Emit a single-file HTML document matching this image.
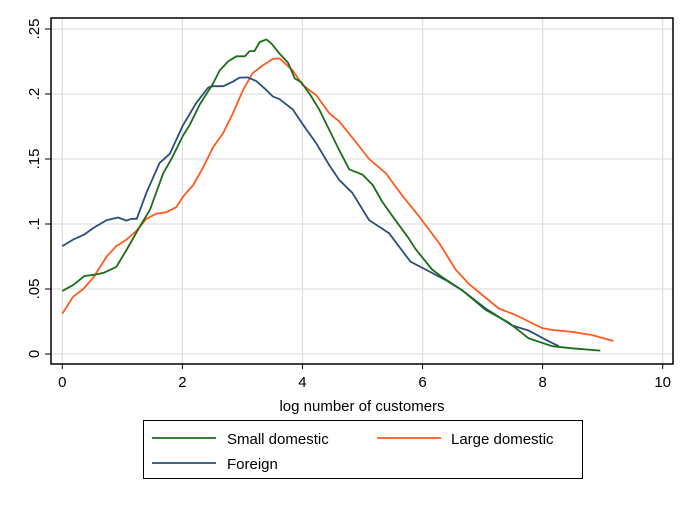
<!DOCTYPE html>
<html><head><meta charset="utf-8"><style>
body{margin:0;background:#fff;}
svg text{font-family:"Liberation Sans",sans-serif;fill:#000;}
</style></head><body>
<svg id="chart" width="692" height="503" viewBox="0 0 692 503">
<rect width="692" height="503" fill="#fff"/>
<g id="grid"></g>
<rect x="51" y="18" width="622" height="346" fill="none" stroke="#000" stroke-width="1.5"/>
<g id="series"></g>
<g id="axes"></g>
<text x="362" y="411" font-size="15" text-anchor="middle">log number of customers</text>
<g>
<rect x="143.5" y="420.5" width="439" height="58" fill="#fff" stroke="#000" stroke-width="1"/>
<line x1="152" y1="438" x2="216" y2="438" stroke="#1a6e1a" stroke-width="1.8"/>
<text x="227" y="444" font-size="15">Small domestic</text>
<line x1="377" y1="438" x2="441" y2="438" stroke="#ff5a1f" stroke-width="1.8"/>
<text x="451" y="444" font-size="15">Large domestic</text>
<line x1="152" y1="463" x2="216" y2="463" stroke="#2a4f7a" stroke-width="1.8"/>
<text x="227" y="469" font-size="15">Foreign</text>
</g>
</svg>
<script>
const xTicks=[0,2,4,6,8,10];
const yTicks=[0,0.05,0.1,0.15,0.2,0.25];
const yTickLabels=["0",".05",".1",".15",".2",".25"];
const smallX=[0,.18,.37,.54,.70,.90,1.07,1.29,1.46,1.68,1.84,2.01,2.12,2.29,2.51,2.62,2.76,2.90,3.04,3.12,3.20,3.29,3.40,3.48,3.62,3.76,3.87,3.98,4.12,4.28,4.45,4.61,4.78,5.0,5.17,5.33,5.50,5.77,5.88,6.16,6.33,6.66,7.05,7.44,7.77,8.16,8.49,8.96];
const smallY=[.0485,.053,.06,.061,.0626,.067,.08,.098,.111,.139,.152,.168,.176,.192,.208,.218,.225,.229,.229,.233,.233,.240,.242,.239,.231,.224,.212,.209,.200,.188,.172,.157,.142,.138,.130,.117,.106,.089,.081,.065,.059,.049,.034,.024,.012,.006,.0044,.0026];
const largeX=[0,.18,.35,.52,.74,.90,1.07,1.24,1.40,1.57,1.73,1.90,2.01,2.18,2.34,2.51,2.68,2.84,3.01,3.17,3.34,3.51,3.62,3.84,4.0,4.23,4.45,4.61,4.89,5.11,5.39,5.66,5.94,6.28,6.55,6.77,7.27,7.55,7.99,8.15,8.49,8.82,9.18];
const largeY=[.031,.044,.050,.059,.075,.083,.088,.095,.104,.108,.109,.113,.121,.130,.143,.159,.170,.185,.203,.216,.222,.227,.2274,.218,.207,.199,.185,.179,.163,.150,.139,.122,.106,.085,.065,.054,.035,.030,.020,.0185,.017,.0146,.010];
const forX=[0,.18,.37,.52,.74,.93,1.07,1.15,1.24,1.40,1.62,1.79,2.01,2.23,2.43,2.51,2.68,2.84,2.95,3.09,3.23,3.40,3.51,3.62,3.84,4.0,4.23,4.45,4.61,4.83,5.11,5.44,5.80,6.05,6.38,6.66,7.05,7.49,7.77,8.05,8.27];
const forY=[.083,.088,.092,.097,.103,.105,.1026,.104,.104,.124,.147,.154,.176,.193,.205,.206,.206,.2095,.2126,.2128,.210,.203,.198,.196,.188,.177,.162,.145,.134,.124,.103,.093,.071,.065,.057,.049,.035,.022,.018,.011,.006];
const NS="http://www.w3.org/2000/svg";
function sx(v){return 62.3+v*60.04;}
function sy(v){return 354-v*1300;}
const grid=document.getElementById('grid'),axes=document.getElementById('axes'),series=document.getElementById('series');
function mk(tag,attrs,parent){const e=document.createElementNS(NS,tag);for(const k in attrs)e.setAttribute(k,attrs[k]);parent.appendChild(e);return e;}
xTicks.forEach(t=>{
  const g=mk('line',{x1:sx(t),x2:sx(t),y1:18,y2:364,stroke:'#e0e0e0','stroke-width':1.3},grid);
  
  
  const tk=mk('line',{x1:sx(t),x2:sx(t),y1:364,y2:369,stroke:'#000','stroke-width':1},axes);
  
  
  const lb=mk('text',{x:sx(t),y:387,'font-size':15,'text-anchor':'middle'},axes);
  lb.textContent=String(t);
  
  
});
yTicks.forEach((t,i)=>{
  const g=mk('line',{x1:51,x2:673,y1:sy(t),y2:sy(t),stroke:'#e0e0e0','stroke-width':1.3},grid);
  
  
  const tk=mk('line',{x1:45,x2:51,y1:sy(t),y2:sy(t),stroke:'#000','stroke-width':1},axes);
  
  
  const lb=mk('text',{x:0,y:0,'font-size':15,'text-anchor':'middle',transform:'translate(39,'+sy(t)+') rotate(-90)'},axes);
  lb.textContent=yTickLabels[i];
  
  
});
function line(xs,ys,color,name){
  const d=xs.map((x,i)=>(i?'L':'M')+sx(x).toFixed(1)+' '+sy(ys[i]).toFixed(1)).join(' ');
  const p=mk('path',{d:d,fill:'none',stroke:color,'stroke-width':1.8,'stroke-linejoin':'round'},series);
  
  
}
line(largeX,largeY,'#ff5a1f','large-domestic-line');
line(forX,forY,'#2a4f7a','foreign-line');
line(smallX,smallY,'#1a6e1a','small-domestic-line');
</script>
</body></html>
